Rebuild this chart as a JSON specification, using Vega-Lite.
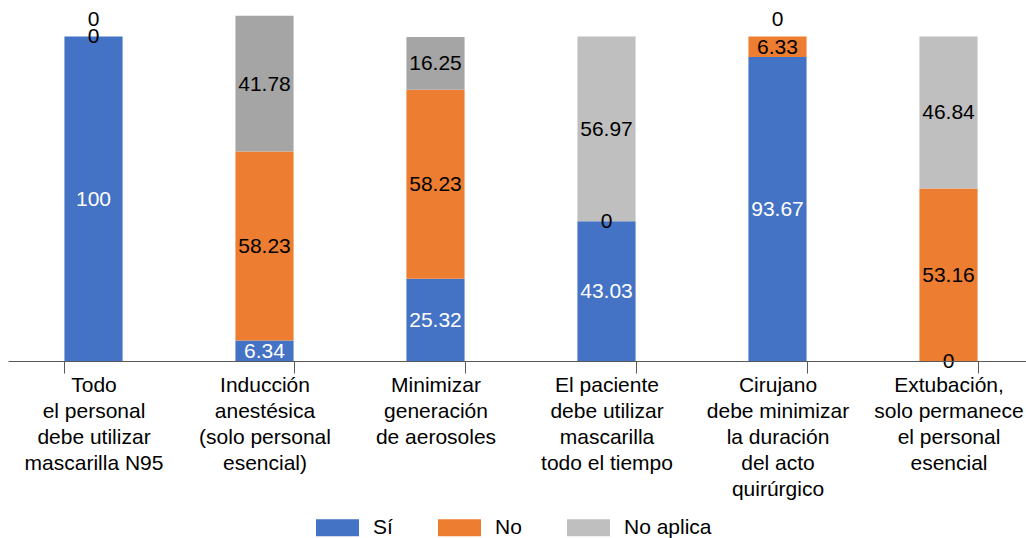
{
  "$schema": "https://vega.github.io/schema/vega-lite/v6.json",
  "width": 1018,
  "height": 357,
  "autosize": "none",
  "padding": {"left": 8, "top": 4, "right": 0, "bottom": 177},
  "config": {"view": {"stroke": null}, "font": "Liberation Sans"},
  "data": {
    "values": [
      {"pregunta": "Todo|el personal|debe utilizar|mascarilla N95", "serie": "Sí", "valor": 100},
      {"pregunta": "Todo|el personal|debe utilizar|mascarilla N95", "serie": "No", "valor": 0},
      {"pregunta": "Todo|el personal|debe utilizar|mascarilla N95", "serie": "No aplica", "valor": 0},
      {"pregunta": "Inducción|anestésica|(solo personal|esencial)", "serie": "Sí", "valor": 6.34},
      {"pregunta": "Inducción|anestésica|(solo personal|esencial)", "serie": "No", "valor": 58.23},
      {"pregunta": "Inducción|anestésica|(solo personal|esencial)", "serie": "No aplica", "valor": 41.78},
      {"pregunta": "Minimizar|generación|de aerosoles", "serie": "Sí", "valor": 25.32},
      {"pregunta": "Minimizar|generación|de aerosoles", "serie": "No", "valor": 58.23},
      {"pregunta": "Minimizar|generación|de aerosoles", "serie": "No aplica", "valor": 16.25},
      {"pregunta": "El paciente|debe utilizar|mascarilla|todo el tiempo", "serie": "Sí", "valor": 43.03},
      {"pregunta": "El paciente|debe utilizar|mascarilla|todo el tiempo", "serie": "No", "valor": 0},
      {"pregunta": "El paciente|debe utilizar|mascarilla|todo el tiempo", "serie": "No aplica", "valor": 56.97},
      {"pregunta": "Cirujano|debe minimizar|la duración|del acto|quirúrgico", "serie": "Sí", "valor": 93.67},
      {"pregunta": "Cirujano|debe minimizar|la duración|del acto|quirúrgico", "serie": "No", "valor": 6.33},
      {"pregunta": "Cirujano|debe minimizar|la duración|del acto|quirúrgico", "serie": "No aplica", "valor": 0},
      {"pregunta": "Extubación,|solo permanece|el personal|esencial", "serie": "Sí", "valor": 0},
      {"pregunta": "Extubación,|solo permanece|el personal|esencial", "serie": "No", "valor": 53.16},
      {"pregunta": "Extubación,|solo permanece|el personal|esencial", "serie": "No aplica", "valor": 46.84}
    ]
  },
  "transform": [
    {"calculate": "indexof(['Sí', 'No', 'No aplica'], datum.serie)", "as": "orden"},
    {"stack": "valor", "groupby": ["pregunta"], "sort": [{"field": "orden", "order": "ascending"}], "as": ["y0", "y1"]},
    {"calculate": "(datum.y0 + datum.y1) / 2", "as": "ymid"}
  ],
  "encoding": {
    "x": {
      "field": "pregunta",
      "type": "nominal",
      "sort": null,
      "scale": {"range": [0, 1026], "paddingInner": 0.66, "paddingOuter": 0.33},
      "axis": {
        "title": null,
        "labelExpr": "split(datum.label, '|')",
        "labelAngle": 0,
        "labelFont": "Liberation Sans",
        "labelFontSize": 21,
        "labelLineHeight": 26,
        "labelColor": "#000000",
        "labelLimit": 220,
        "labelPadding": 1,
        "labelBaseline": "top",
        "labelOverlap": false,
        "tickBand": "extent",
        "tickSize": 12,
        "tickColor": {"condition": {"test": "datum.index === 0", "value": "transparent"}, "value": "#595959"},
        "domainColor": "#595959",
        "zindex": 1
      }
    }
  },
  "layer": [
    {
      "mark": {"type": "bar"},
      "encoding": {
        "y": {"field": "y0", "type": "quantitative", "scale": {"domain": [0, 110]}, "axis": null},
        "y2": {"field": "y1"},
        "fill": {
          "condition": {
            "test": "datum.serie === 'No aplica' && (indexof(datum.pregunta, 'Inducción') === 0 || indexof(datum.pregunta, 'Minimizar') === 0)",
            "value": "#a5a5a5"
          },
          "field": "serie",
          "type": "nominal",
          "scale": {"domain": ["Sí", "No", "No aplica"], "range": ["#4472c4", "#ed7d31", "#bfbfbf"]},
          "legend": {
            "orient": "none",
            "legendX": 308,
            "legendY": 502,
            "direction": "horizontal",
            "title": null,
            "symbolType": "M-1,-0.4H1V0.4H-1Z",
            "symbolSize": 1849,
            "symbolStrokeWidth": 0,
            "labelFont": "Liberation Sans",
            "labelFontSize": 21,
            "labelColor": "#000000",
            "labelOffset": 14,
            "columnPadding": 45
          }
        }
      }
    },
    {
      "transform": [{"filter": "!(datum.serie === 'No aplica' && datum.valor === 0)"}],
      "mark": {"type": "text", "fontSize": 21, "baseline": "middle", "dy": 1, "font": "Liberation Sans"},
      "encoding": {
        "y": {"field": "ymid", "type": "quantitative"},
        "text": {"field": "valor", "type": "quantitative"},
        "color": {"condition": {"test": "datum.serie === 'Sí' && datum.valor > 0", "value": "#ffffff"}, "value": "#000000"}
      }
    },
    {
      "transform": [{"filter": "datum.serie === 'No aplica' && datum.valor === 0"}],
      "mark": {"type": "text", "fontSize": 21, "baseline": "middle", "dy": -16, "font": "Liberation Sans"},
      "encoding": {
        "y": {"field": "ymid", "type": "quantitative"},
        "text": {"field": "valor", "type": "quantitative"},
        "color": {"value": "#000000"}
      }
    }
  ]
}
